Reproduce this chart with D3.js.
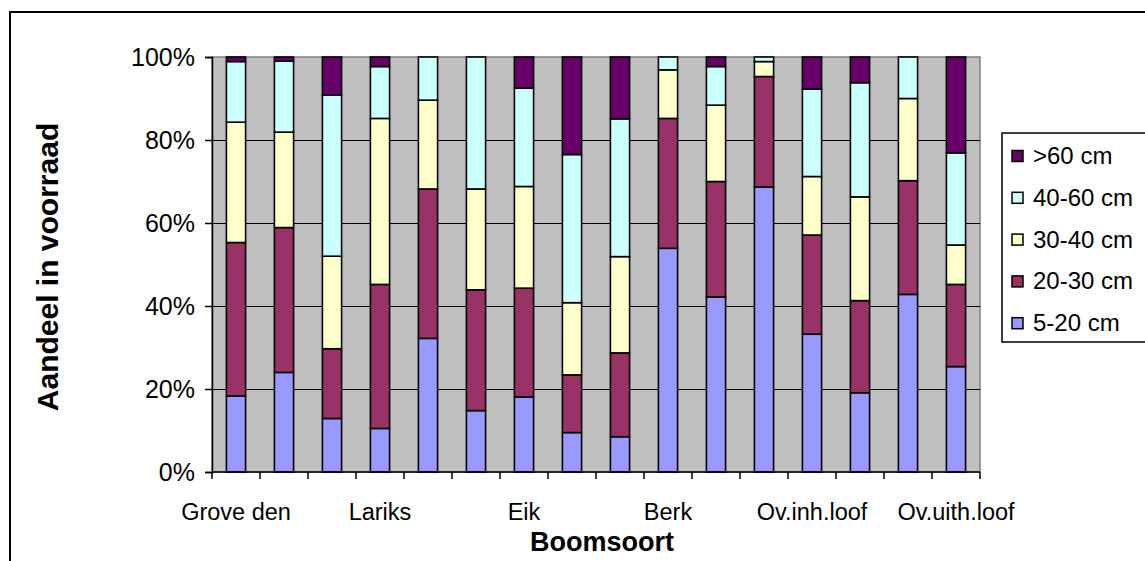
<!DOCTYPE html>
<html>
<head>
<meta charset="utf-8">
<script src="https://cdn.jsdelivr.net/npm/d3@7/dist/d3.min.js"></script>
<style>
  html, body { margin: 0; padding: 0; background: #ffffff; }
  svg { display: block; font-family: "Liberation Sans", Arial, sans-serif; }
</style>
</head>
<body>
<svg id="chart" width="1145" height="561"></svg>
<script>
// Share of standing stock per diameter class, per tree species (percent)
const categoryLabels = ["Grove den", "", "", "Lariks", "", "", "Eik", "", "",
                        "Berk", "", "", "Ov.inh.loof", "", "", "Ov.uith.loof"];
const seriesNames = ["5-20 cm", "20-30 cm", "30-40 cm", "40-60 cm", ">60 cm"];
const seriesColors = ["#9999FF", "#993366", "#FFFFCC", "#CCFFFF", "#660066"];
const d5_20  = [18.3, 24.0, 12.9, 10.5, 32.2, 14.8, 18.1,  9.5,  8.5, 53.9, 42.2, 68.7, 33.2, 19.1, 42.8, 25.4];
const d20_30 = [37.0, 34.9, 16.8, 34.7, 36.0, 29.1, 26.2, 13.9, 20.2, 31.3, 27.8, 26.6, 23.9, 22.2, 27.4, 19.8];
const d30_40 = [29.0, 23.0, 22.3, 40.0, 21.4, 24.3, 24.5, 17.4, 23.2, 11.7, 18.4,  3.6, 14.1, 25.0, 19.8,  9.5];
const d40_60 = [14.6, 17.1, 38.8, 12.5, 10.4, 31.8, 23.7, 35.7, 33.2,  3.1,  9.3,  1.1, 21.1, 27.5, 10.0, 22.2];
const d60    = [ 1.1,  1.0,  9.2,  2.3,  0.0,  0.0,  7.5, 23.5, 14.9,  0.0,  2.3,  0.0,  7.7,  6.2,  0.0, 23.1];
const yTicks = [0, 0.2, 0.4, 0.6, 0.8, 1.0];

const seriesData = [d5_20, d20_30, d30_40, d40_60, d60];
const rows = categoryLabels.map((c, i) => {
  const r = { idx: i };
  seriesNames.forEach((s, k) => { r[s] = seriesData[k][i]; });
  return r;
});

const svg = d3.select("#chart");
const plot = { left: 212, right: 980, top: 57, bottom: 472 };

// outer chart frame
svg.append("rect")
  .attr("x", 10).attr("y", 12).attr("width", 1150).attr("height", 570)
  .attr("fill", "#ffffff").attr("stroke", "#000000").attr("stroke-width", 2);

const x = d3.scaleBand()
  .domain(d3.range(categoryLabels.length))
  .range([plot.left, plot.right])
  .paddingInner(0.6).paddingOuter(0.3);
const y = d3.scaleLinear().domain([0, 1]).range([plot.bottom, plot.top]);

// plot background
svg.append("rect")
  .attr("x", plot.left).attr("y", plot.top)
  .attr("width", plot.right - plot.left).attr("height", plot.bottom - plot.top)
  .attr("fill", "#C0C0C0").attr("stroke", "#808080").attr("stroke-width", 1.5);

// horizontal gridlines
svg.append("g").selectAll("line")
  .data(yTicks.filter(t => t > 0 && t < 1))
  .join("line")
  .attr("x1", plot.left).attr("x2", plot.right)
  .attr("y1", d => Math.round(y(d)) + 0.5).attr("y2", d => Math.round(y(d)) + 0.5)
  .attr("stroke", "#000000").attr("stroke-width", 1);

// stacked bars
const stack = d3.stack().keys(seriesNames).offset(d3.stackOffsetExpand);
const layers = stack(rows);
svg.append("g").selectAll("g")
  .data(layers)
  .join("g")
  .attr("fill", (d, i) => seriesColors[i])
  .selectAll("rect")
  .data(d => d.filter(p => p[1] - p[0] > 0))
  .join("rect")
  .attr("x", d => x(d.data.idx))
  .attr("width", x.bandwidth())
  .attr("y", d => y(d[1]))
  .attr("height", d => y(d[0]) - y(d[1]))
  .attr("stroke", "#000000").attr("stroke-width", 1.6);

// y axis
const yAxis = d3.axisLeft(y).tickValues(yTicks)
  .tickFormat(d3.format(".0%")).tickSize(7).tickPadding(10);
const gy = svg.append("g").attr("transform", `translate(${plot.left},0)`).call(yAxis);
gy.select(".domain").attr("stroke", "#000").attr("stroke-width", 1.5);
gy.selectAll(".tick line").attr("stroke", "#000").attr("stroke-width", 1.5);
gy.selectAll(".tick text").attr("font-size", 25).attr("fill", "#000")
  .attr("font-family", "Liberation Sans, Arial, sans-serif");

// x axis: ticks on category boundaries
const boundaries = d3.range(categoryLabels.length + 1).map(i => plot.left + i * x.step());
svg.append("line")
  .attr("x1", plot.left).attr("x2", plot.right)
  .attr("y1", plot.bottom).attr("y2", plot.bottom)
  .attr("stroke", "#000").attr("stroke-width", 1.5);
svg.append("g").selectAll("line")
  .data(boundaries)
  .join("line")
  .attr("x1", d => d).attr("x2", d => d)
  .attr("y1", plot.bottom).attr("y2", plot.bottom + 7)
  .attr("stroke", "#000").attr("stroke-width", 1.5);
svg.append("g").selectAll("text")
  .data(categoryLabels.map((c, i) => ({ c, i })).filter(d => d.c))
  .join("text")
  .attr("x", d => x(d.i) + x.bandwidth() / 2)
  .attr("y", 520)
  .attr("text-anchor", "middle")
  .attr("font-size", 23.5)
  .text(d => d.c);

// axis titles
svg.append("text")
  .attr("x", 602).attr("y", 551)
  .attr("text-anchor", "middle").attr("font-size", 27).attr("font-weight", "bold")
  .text("Boomsoort");
svg.append("text")
  .attr("transform", "translate(58,267) rotate(-90)")
  .attr("text-anchor", "middle").attr("font-size", 30).attr("font-weight", "bold")
  .text("Aandeel in voorraad");

// legend (top entry is the top of the stack)
const legend = svg.append("g");
legend.append("rect")
  .attr("x", 1002).attr("y", 133).attr("width", 160).attr("height", 209)
  .attr("fill", "#ffffff").attr("stroke", "#000").attr("stroke-width", 1.5);
const legendItems = seriesNames.map((s, i) => ({ s, c: seriesColors[i] })).reverse();
const li = legend.selectAll("g.item")
  .data(legendItems)
  .join("g")
  .attr("class", "item")
  .attr("transform", (d, i) => `translate(1012,${156 + i * 41.8})`);
li.append("rect")
  .attr("x", 0).attr("y", -5.5).attr("width", 11).attr("height", 11)
  .attr("fill", d => d.c).attr("stroke", "#000").attr("stroke-width", 1.5);
li.append("text")
  .attr("x", 21).attr("y", 8)
  .attr("font-size", 24)
  .text(d => d.s);
</script>
</body>
</html>
